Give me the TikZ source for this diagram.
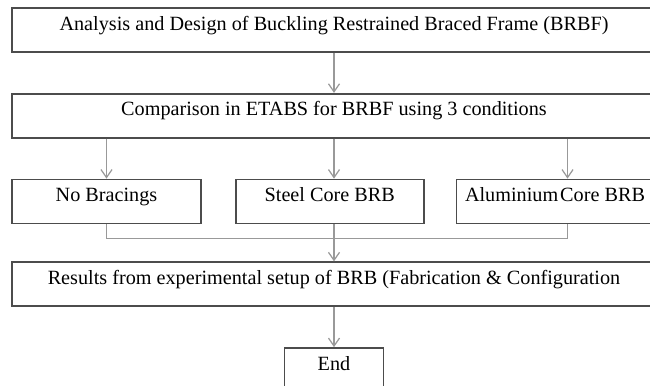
\documentclass[tikz,border=0pt]{standalone}
\usepackage{fontspec}
\setmainfont{Liberation Serif}
\usetikzlibrary{positioning,arrows.meta}
\tikzset{
    box/.style={rectangle,draw=black!70,line width=1pt,minimum height=0.88cm,
                text height=0.25cm,text depth=0.25cm,inner sep=0pt,
                font=\fontsize{11.5}{13}\selectfont},
    arrow/.style={-{Straight Barb[length=0.16cm,width=0.22cm]},draw=black!40,line width=0.7pt},
    line/.style={draw=black!40,line width=0.7pt},
}

\begin{document}
\begin{tikzpicture}[node distance=0.8cm]
    \clip (0,0) rectangle (13,-7.7);

    % ---- main steps ----
    \node[box,minimum width=12.88cm] (ana) at (6.68,-0.6)
        {Analysis and Design of Buckling Restrained Braced Frame (BRBF)};
    \node[box,minimum width=12.88cm,below=of ana] (cmp)
        {Comparison in ETABS for BRBF using 3 conditions};

    % ---- three conditions ----
    \node[box,minimum width=3.78cm,below right=0.8cm and 0cm of cmp.south west] (nob) {No Bracings};
    \node[box,minimum width=3.76cm,right=0.66cm of nob] (stl) {Steel Core BRB};
    \node[box,minimum width=4.44cm,right=0.62cm of stl] (alu)
        {\hspace*{-0.5cm}Aluminium\hspace{0.1em}Core BRB};

    % ---- results and end ----
    \node[box,minimum width=12.88cm,below=0.74cm of cmp.south |- stl.south] (res)
        {Results from experimental setup of BRB (Fabrication \& Configuration};
    \node[box,minimum width=1.98cm,below=0.8cm of res] (fin) {End};

    % ---- connectors ----
    \draw[arrow] (ana) -- (cmp);
    \draw[arrow] (cmp.south -| nob) -- (nob);
    \draw[arrow] (cmp.south) -- (cmp.south |- stl.north);
    \draw[arrow] (cmp.south -| alu) -- (alu);
    \draw[line] (nob.south) -- ++(0,-0.28) -| (alu.south);
    \draw[arrow] (cmp.south |- stl.south) -- (res);
    \draw[arrow] (res) -- (fin);

\end{tikzpicture}
\end{document}
